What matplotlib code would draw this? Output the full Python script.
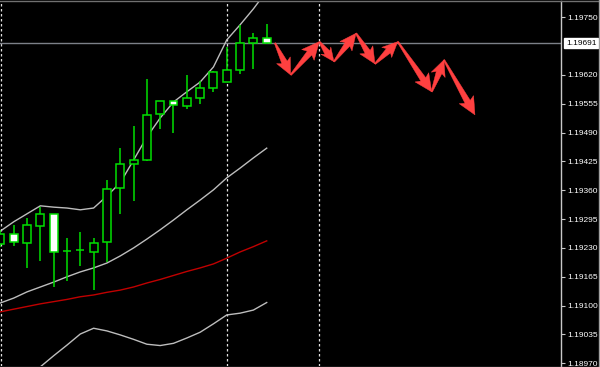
import matplotlib
matplotlib.use('Agg')
import matplotlib.pyplot as plt
from matplotlib.patches import Polygon
from matplotlib.lines import Line2D
import numpy as np

plt.rcParams['font.family'] = ['Liberation Sans', 'DejaVu Sans']

# ---- candle data (bar index 0..20) ----
opens  = [1.19239, 1.19262, 1.19241, 1.19280, 1.19307, 1.19223, 1.19225, 1.19221, 1.19243, 1.19365, 1.19419,
          1.19428, 1.19532, 1.19561, 1.19550, 1.19568, 1.19591, 1.19604, 1.19631, 1.19692, 1.19703]
closes = [1.19262, 1.19243, 1.19282, 1.19307, 1.19221, 1.19223, 1.19225, 1.19241, 1.19363, 1.19419, 1.19428,
          1.19530, 1.19561, 1.19552, 1.19568, 1.19591, 1.19627, 1.19631, 1.19692, 1.19703, 1.19691]
highs  = [1.19271, 1.19282, 1.19298, 1.19322, 1.19307, 1.19252, 1.19266, 1.19252, 1.19383, 1.19455, 1.19505,
          1.19611, 1.19561, 1.19561, 1.19620, 1.19606, 1.19629, 1.19683, 1.19733, 1.19715, 1.19735]
lows   = [1.19232, 1.19234, 1.19185, 1.19201, 1.19142, 1.19156, 1.19189, 1.19135, 1.19198, 1.19307, 1.19336,
          1.19426, 1.19498, 1.19489, 1.19543, 1.19555, 1.19582, 1.19604, 1.19622, 1.19633, 1.19690]

# ---- indicator lines ----
band_upper  = [1.19268, 1.19289, 1.19307, 1.19325, 1.19322, 1.19320, 1.19316, 1.19320, 1.19347, 1.19377, 1.19428,
               1.19480, 1.19523, 1.19559, 1.19582, 1.19604, 1.19638, 1.19699, 1.19733, 1.19769, 1.19809]
band_middle = [1.19106, 1.19117, 1.19131, 1.19142, 1.19153, 1.19165, 1.19176, 1.19185, 1.19196, 1.19212, 1.19230,
               1.19250, 1.19271, 1.19293, 1.19316, 1.19338, 1.19361, 1.19388, 1.19410, 1.19433, 1.19455]
band_lower  = [1.18944, 1.18946, 1.18955, 1.18962, 1.18987, 1.19011, 1.19036, 1.19049, 1.19043, 1.19034, 1.19024,
               1.19013, 1.19010, 1.19015, 1.19027, 1.19040, 1.19059, 1.19079, 1.19083, 1.19090, 1.19107]
ma_red      = [1.19086, 1.19092, 1.19098, 1.19104, 1.19109, 1.19114, 1.19120, 1.19124, 1.19130, 1.19135, 1.19142,
               1.19151, 1.19159, 1.19168, 1.19177, 1.19185, 1.19194, 1.19207, 1.19221, 1.19233, 1.19246]

# ---- forecast zigzag arrows (bar position, price) ----
arrow_x = [20.62, 21.80, 23.95, 25.05, 26.71, 28.13, 29.84, 32.39, 33.31, 35.64]
arrow_y = [1.19692, 1.19620, 1.19695, 1.19650, 1.19714, 1.19645, 1.19695, 1.19582, 1.19654, 1.19530]

# ---- axis ----
tick_values = [1.18970, 1.19035, 1.19100, 1.19165, 1.19230, 1.19295, 1.19360, 1.19425, 1.19490, 1.19555, 1.19620, 1.19750]
tick_labels = ['1.18970', '1.19035', '1.19100', '1.19165', '1.19230', '1.19295', '1.19360', '1.19425', '1.19490',
               '1.19555', '1.19620', '1.19750']
bid_price = 1.19691
bid_label = '1.19691'
separators = [0.05, 17, 23.95]

GREEN = '#00e000'
fig = plt.figure(figsize=(6, 3.67), dpi=100, facecolor='black')
ax = fig.add_axes([0, 1 / 367, 561 / 600, 365 / 367], facecolor='black')
ax.set_xlim(-0.029, 42.1)
ax.set_ylim(1.189639, 1.197867)

x = np.arange(len(opens))

# separators
for s in separators:
    ax.axvline(s, color='#e0e0e0', lw=0.9, ls=(0, (2, 2)), zorder=1)

# bid line
ax.axhline(bid_price, color='#7c8088', lw=1.0, zorder=2)

# indicators
ax.plot(x, band_upper, color='#bdbdbd', lw=1.0, zorder=3)
ax.plot(x, band_middle, color='#bdbdbd', lw=1.0, zorder=3)
ax.plot(x, band_lower, color='#bdbdbd', lw=1.0, zorder=3)
ax.plot(x, ma_red, color='#c00000', lw=1.0, zorder=3)

# candles
o = np.array(opens); c = np.array(closes)
ax.vlines(x, lows, highs, color=GREEN, lw=1.1, zorder=4)
fills = ['black' if cc > oo else 'white' for oo, cc in zip(o, c)]
ax.bar(x, np.abs(c - o), bottom=np.minimum(o, c), width=0.6, color=fills,
       edgecolor=GREEN, linewidth=1.1, zorder=5)

# arrows built in pixel space from data points
fig.canvas.draw()
tr = ax.transData
inv = tr.inverted()
pts = tr.transform(np.column_stack([arrow_x, arrow_y]))
for p0, p1 in zip(pts[:-1], pts[1:]):
    d = p1 - p0
    L = np.hypot(*d)
    u = d / L
    n = np.array([-u[1], u[0]])
    hl = min(15.0, 0.25 * L + 5)
    hw = 0.55 * hl
    base = p1 - u * hl
    poly = [p0 + n * 0.7, base + n * 3.0, base - u * 2.5 + n * hw, p1,
            base - u * 2.5 - n * hw, base - n * 3.0, p0 - n * 0.7]
    ax.add_patch(Polygon(inv.transform(np.array(poly)), closed=True,
                         facecolor='#ff4040', edgecolor='#ff4040', lw=0.3, zorder=6))

# axes styling
for side in ['left', 'top', 'bottom']:
    ax.spines[side].set_visible(False)
ax.spines['right'].set_color('#c8c8c8')
ax.spines['right'].set_linewidth(1.0)
ax.set_xticks([])
ax.yaxis.tick_right()
ax.set_yticks(tick_values)
ax.set_yticklabels(tick_labels)
ax.tick_params(axis='y', direction='out', length=3, width=0.8, color='#c8c8c8',
               labelcolor='white', labelsize=6, pad=1.5)

ax.annotate(bid_label, xy=(1.0, bid_price), xycoords=('axes fraction', 'data'),
            xytext=(3.5, 0), textcoords='offset points', va='center', ha='left',
            fontsize=6, color='black',
            bbox=dict(boxstyle='square,pad=0.18', fc='white', ec='white'))

# frame lines
fig.add_artist(Line2D([0, 1], [1 - 0.5 / 367, 1 - 0.5 / 367], transform=fig.transFigure, color='#707070', lw=1))
fig.add_artist(Line2D([0, 1], [0.5 / 367, 0.5 / 367], transform=fig.transFigure, color='#707070', lw=1))
fig.add_artist(Line2D([1 - 1.5 / 600, 1 - 1.5 / 600], [0, 1], transform=fig.transFigure, color='#a0a0a0', lw=1))

fig.savefig('out.png', dpi=100, facecolor='black')
